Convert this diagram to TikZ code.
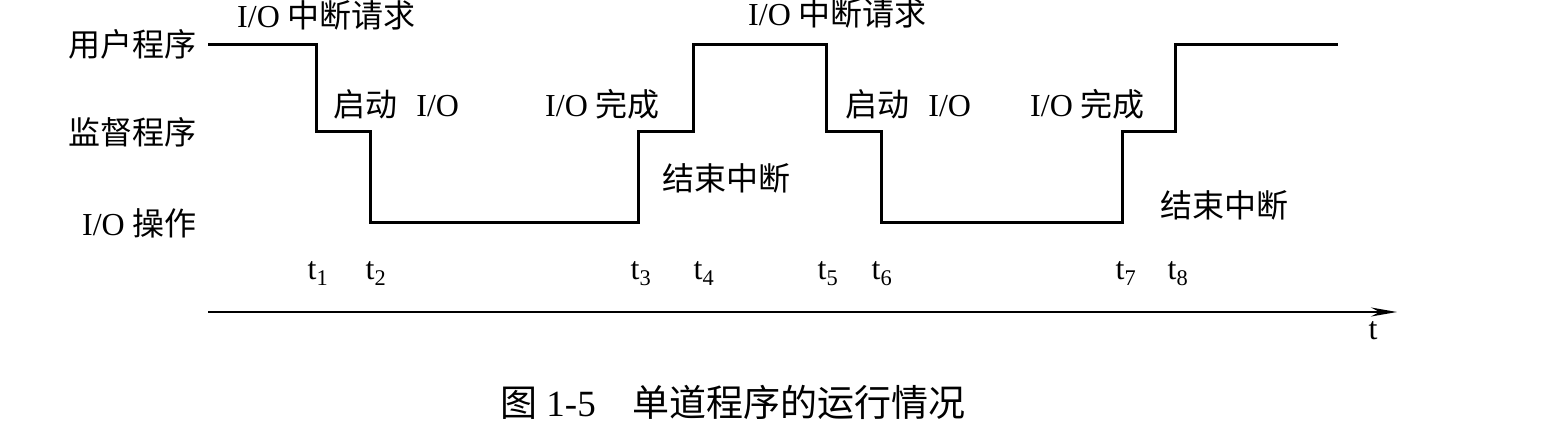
\documentclass[tikz,border=0pt]{standalone}
\usepackage{fontspec}
\setmainfont{Liberation Serif}
\newfontfamily\cjk{Noto Sans CJK SC}
\usetikzlibrary{arrows.meta}
\begin{document}
\begin{tikzpicture}[x=1pt,y=-1pt,
  lbl/.style={inner sep=0pt, font=\fontsize{32}{32}\selectfont},
  captxt/.style={inner sep=0pt, font=\fontsize{37}{37}\selectfont},
  wave/.style={line width=3pt, line join=miter},
  axisline/.style={line width=2pt, -{Stealth[length=26pt,width=9pt]}}]
\useasboundingbox[fill=white] (0,0) rectangle (1542,429);
% level labels
\node[lbl, anchor=east] (lu) at (197,44) {\cjk 用户程序};
\node[lbl, anchor=east] (ls) at (197,132) {\cjk 监督程序};
\node[lbl, anchor=east] (lio) at (197,223) {I/O \cjk 操作};
% waveform coordinates
\coordinate (s) at (208,44);
\coordinate (a1) at (316,44); \coordinate (b1) at (316,131);
\coordinate (a2) at (370,131); \coordinate (b2) at (370,222);
\coordinate (a3) at (638,222); \coordinate (b3) at (638,131);
\coordinate (a4) at (693,131); \coordinate (b4) at (693,44);
\coordinate (a5) at (826,44); \coordinate (b5) at (826,131);
\coordinate (a6) at (881,131); \coordinate (b6) at (881,222);
\coordinate (a7) at (1122,222); \coordinate (b7) at (1122,131);
\coordinate (a8) at (1175,131); \coordinate (b8) at (1175,44);
\coordinate (e) at (1338,44);
\draw[wave] (s) -- (a1) -- (b1) -- (a2) -- (b2) -- (a3) -- (b3) -- (a4) -- (b4)
  -- (a5) -- (b5) -- (a6) -- (b6) -- (a7) -- (b7) -- (a8) -- (b8) -- (e);
% event labels
\node[lbl, anchor=west] (r1) at (237,15) {I/O \cjk 中断请求};
\node[lbl, anchor=west] (q1) at (333,104) {\cjk 启动\hspace{0.6em}\rmfamily I/O};
\node[lbl, anchor=west] (c1) at (545,104) {I/O \cjk 完成};
\node[lbl, anchor=west] (f1) at (662,178) {\cjk 结束中断};
\node[lbl, anchor=west] (r2) at (748,13) {I/O \cjk 中断请求};
\node[lbl, anchor=west] (q2) at (845,104) {\cjk 启动\hspace{0.6em}\rmfamily I/O};
\node[lbl, anchor=west] (c2) at (1030,104) {I/O \cjk 完成};
\node[lbl, anchor=west] (f2) at (1160,205) {\cjk 结束中断};
% time labels
\foreach \n/\x in {1/318,2/376,3/641,4/704,5/828,6/882,7/1126,8/1178}
  \node[lbl, anchor=base] (t\n) at (\x,279) {t\textsubscript{\n}};
% time axis
\coordinate (ax0) at (208,312);
\coordinate (ax1) at (1397,312);
\draw[axisline] (ax0) -- (ax1);
\node[lbl, anchor=base] (tl) at (1373,339) {t};
% caption
\node[captxt, anchor=west] (capt) at (500,402) {\cjk 图\rmfamily{} 1-5\hspace{1.0em}\cjk 单道程序的运行情况};
\end{tikzpicture}
\end{document}
